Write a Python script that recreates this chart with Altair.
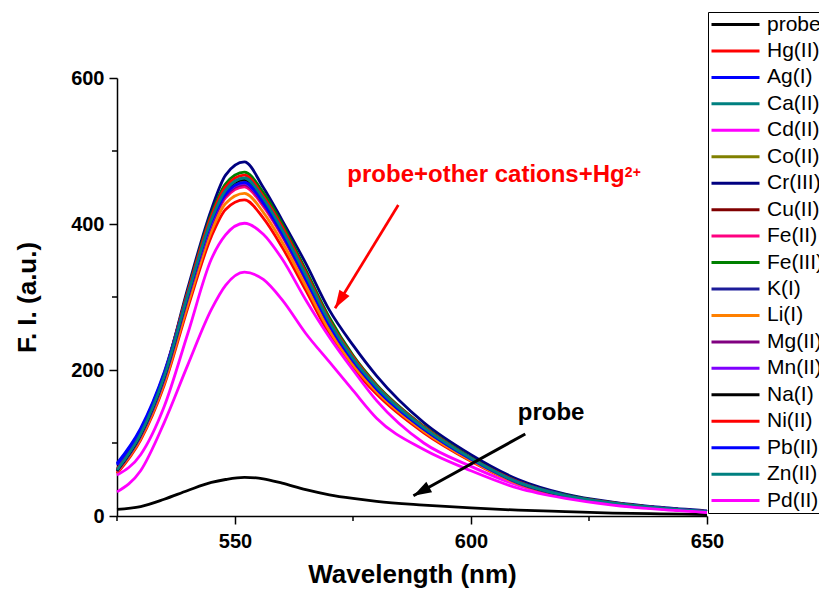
import altair as alt
import pandas as pd

FONT = "Liberation Sans"

# ---------------- data ----------------
wavelength = [525, 530, 535, 540, 545, 548, 552, 556, 560, 565, 570, 575, 580, 590, 600, 610, 620, 630, 640, 650]

series_names = ["probe", "Hg(II)", "Ag(I)", "Ca(II)", "Cd(II)", "Co(II)", "Cr(III)", "Cu(II)", "Fe(II)",
                "Fe(III)", "K(I)", "Li(I)", "Mg(II)", "Mn(II)", "Na(I)", "Ni(II)", "Pb(II)", "Zn(II)", "Pd(II)"]
series_colors = ["#000000", "#FF0000", "#0000FF", "#008080", "#FF00FF", "#808000", "#000080", "#800000", "#FF0080",
                 "#008000", "#1C1C99", "#FF8000", "#800080", "#8000FF", "#000000", "#FF0000", "#0000FF", "#008080", "#FF00FF"]

probe = [9, 13, 23, 35, 46, 50, 53, 51, 45, 36, 29, 24, 20, 15, 11, 8, 6, 4, 3, 2]
hg = [58, 104, 179, 285, 383, 420, 433, 408, 368, 309, 249, 203, 167, 114, 75, 44, 27, 16, 10, 6]
ag = [72, 120, 197, 305, 405, 443, 458, 430, 388, 326, 263, 214, 175, 120, 78, 46, 28, 17, 11, 6]
ca = [63, 112, 191, 303, 406, 446, 462, 434, 392, 330, 266, 216, 177, 121, 79, 46, 28, 18, 11, 6]
cd = [56, 84, 150, 250, 352, 385, 401, 386, 352, 296, 245, 200, 158, 100, 68, 42, 26, 16, 10, 5]
co = [63, 112, 190, 302, 404, 444, 460, 432, 390, 328, 264, 215, 176, 120, 79, 46, 28, 18, 11, 6]
cr = [62, 112, 193, 312, 420, 467, 485, 450, 405, 346, 282, 234, 192, 128, 84, 50, 30, 19, 12, 7]
cu = [62, 110, 188, 299, 400, 440, 455, 428, 386, 325, 262, 213, 174, 119, 78, 46, 28, 17, 11, 6]
fe2 = [60, 108, 185, 296, 397, 436, 451, 424, 383, 322, 259, 211, 173, 118, 77, 45, 27, 17, 10, 6]
fe3 = [62, 113, 194, 308, 414, 455, 471, 443, 400, 337, 272, 220, 180, 123, 80, 47, 29, 18, 11, 6]
k = [64, 113, 191, 302, 405, 445, 461, 433, 391, 329, 265, 216, 177, 121, 79, 46, 28, 18, 11, 6]
li = [60, 106, 182, 290, 390, 428, 442, 416, 375, 315, 254, 207, 170, 116, 76, 44, 27, 17, 10, 6]
mg = [61, 109, 187, 298, 399, 439, 454, 427, 385, 324, 261, 212, 174, 119, 78, 45, 27, 17, 10, 6]
mn = [62, 110, 188, 300, 401, 441, 456, 429, 387, 326, 262, 213, 175, 120, 78, 46, 28, 17, 11, 6]
na = [62, 111, 190, 302, 405, 445, 461, 433, 391, 329, 265, 215, 176, 120, 79, 46, 28, 18, 11, 6]
ni = [64, 114, 194, 307, 411, 451, 467, 438, 396, 333, 268, 218, 178, 122, 79, 47, 28, 18, 11, 6]
pb = [70, 118, 195, 303, 403, 441, 457, 429, 387, 325, 262, 213, 174, 119, 78, 46, 28, 17, 11, 6]
zn = [63, 112, 191, 303, 406, 446, 463, 435, 392, 330, 266, 216, 177, 121, 79, 46, 28, 18, 11, 6]
pdii = [33, 62, 128, 207, 283, 316, 334, 324, 296, 250, 211, 172, 134, 91, 62, 38, 24, 15, 9, 5]

series_values = [probe, hg, ag, ca, cd, co, cr, cu, fe2, fe3, k, li, mg, mn, na, ni, pb, zn, pdii]

x_major_ticks = [550, 600, 650]
x_minor_ticks = [525, 575, 625]
y_major_ticks = [0, 200, 400, 600]
y_minor_ticks = [100, 300, 500]

# annotations (data coordinates)
red_label = ["probe+other cations+Hg"]
red_label_x = [573.8]
red_label_y = [457.5]
sup_label = ["2+"]
sup_label_x = [632.6]
sup_label_y = [464]
black_label = ["probe"]
black_label_x = [609.9]
black_label_y = [131.5]

red_arrow_from = (584.6, 426)
red_arrow_to = (571.2, 284.5)
black_arrow_from = (611.5, 112.3)
black_arrow_to = (587.8, 27.8)

# ---------------- build ----------------
rows = []
for name, vals in zip(series_names, series_values):
    for w, v in zip(wavelength, vals):
        rows.append({"series": name, "wavelength": w, "intensity": v})
df = pd.DataFrame(rows)

X0, X1 = 525, 650
XT = "Wavelength (nm)"
YT = "F. I. (a.u.)"
xscale = alt.Scale(domain=[X0, X1], nice=False, zero=False)
yscale = alt.Scale(domain=[0, 600], nice=False)

x_axis = alt.Axis(
    values=x_major_ticks, tickSize=8,
    grid=False, labelFlush=False,
    labelFont=FONT, labelFontSize=20, labelFontWeight="bold", labelColor="black", labelPadding=7,
    titleFont=FONT, titleFontSize=26, titleFontWeight="bold", titleColor="black", titlePadding=10,
    domainColor="black", domainWidth=1.5, tickColor="black", tickWidth=1.5,
)
y_axis = alt.Axis(
    values=y_major_ticks, tickSize=8,
    grid=False, labelFlush=False,
    labelFont=FONT, labelFontSize=20, labelFontWeight="bold", labelColor="black", labelPadding=5,
    titleFont=FONT, titleFontSize=26, titleFontWeight="bold", titleColor="black", titlePadding=30,
    domainColor="black", domainWidth=1.5, tickColor="black", tickWidth=1.5,
)


def X(field):
    return alt.X(field, scale=xscale, axis=x_axis, title=XT)


def Y(field):
    return alt.Y(field, scale=yscale, axis=y_axis, title=YT)


legend = alt.Legend(
    title=None, orient="none", legendX=591, legendY=-66, padding=2,
    strokeColor="black", fillColor="white",
    symbolType="M-4.8,0H4.8", symbolSize=100, symbolStrokeWidth=3, symbolOffset=15,
    labelOffset=21, labelFont=FONT, labelFontSize=21, labelColor="black", labelLimit=300,
    rowPadding=4.45,
)

lines = alt.Chart(df).mark_line(strokeWidth=2.8, interpolate="monotone").encode(
    x=X("wavelength:Q"),
    y=Y("intensity:Q"),
    color=alt.Color("series:N", scale=alt.Scale(domain=series_names, range=series_colors), legend=legend, sort=series_names),
)

x_minor = alt.Chart(pd.DataFrame({"t": x_minor_ticks})).mark_rule(
    color="black", strokeWidth=1.5, y2Offset=5
).encode(
    x=X("t:Q"),
    y=alt.datum(0, scale=yscale, axis=y_axis, title=YT),
    y2=alt.datum(0),
)
y_minor = alt.Chart(pd.DataFrame({"t": y_minor_ticks})).mark_rule(
    color="black", strokeWidth=1.5, x2Offset=-5
).encode(
    y=Y("t:Q"),
    x=alt.datum(X0, scale=xscale, axis=x_axis, title=XT),
    x2=alt.datum(X0),
)


def text_layer(labels, xs, ys, color, size):
    d = pd.DataFrame({"label": labels, "x": xs, "y": ys})
    return alt.Chart(d).mark_text(
        align="left", baseline="alphabetic", font=FONT, fontSize=size, fontWeight="bold", color=color
    ).encode(x=X("x:Q"), y=Y("y:Q"), text="label:N")


def arrow_layers(p0, p1, color, width, angle):
    d = pd.DataFrame({"x": [p0[0]], "y": [p0[1]], "x2": [p1[0]], "y2": [p1[1]]})
    shaft = alt.Chart(d).mark_rule(color=color, strokeWidth=width).encode(
        x=X("x:Q"), y=Y("y:Q"), x2="x2:Q", y2="y2:Q",
    )
    h = pd.DataFrame({"x": [p1[0]], "y": [p1[1]]})
    head = alt.Chart(h).mark_point(
        shape="M0,0L-0.33,1L0.33,1Z", filled=True, size=1296, angle=angle, color=color, opacity=1, strokeWidth=0
    ).encode(x=X("x:Q"), y=Y("y:Q"))
    return [shaft, head]


layers = [lines, x_minor, y_minor,
          text_layer(red_label, red_label_x, red_label_y, "#FF0000", 24),
          text_layer(sup_label, sup_label_x, sup_label_y, "#FF0000", 14),
          text_layer(black_label, black_label_x, black_label_y, "#000000", 24)]
layers += arrow_layers(red_arrow_from, red_arrow_to, "#FF0000", 2.7, 211.5)
layers += arrow_layers(black_arrow_from, black_arrow_to, "#000000", 3, 241.3)

chart = alt.layer(*layers).properties(
    width=590, height=438,
    autosize=alt.AutoSizeParams(type="none"),
    padding={"left": 117, "top": 78, "right": 112, "bottom": 78},
    background="white",
).configure_view(stroke=None)

chart.save("out.html", embed_options={"renderer": "svg", "actions": False})
